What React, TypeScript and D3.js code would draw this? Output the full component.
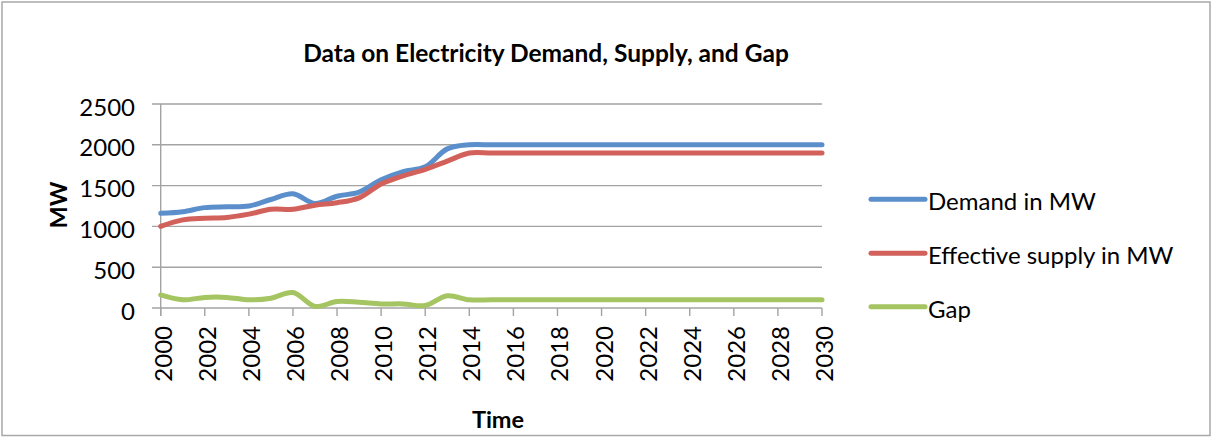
import React from "react";
import * as d3 from "d3";

const years: number[] = [
  2000, 2001, 2002, 2003, 2004, 2005, 2006, 2007, 2008, 2009, 2010,
  2011, 2012, 2013, 2014, 2015, 2016, 2017, 2018, 2019, 2020,
  2021, 2022, 2023, 2024, 2025, 2026, 2027, 2028, 2029, 2030,
];

const demand: number[] = [
  1160, 1180, 1230, 1240, 1250, 1330, 1400, 1280, 1370, 1420, 1570,
  1670, 1730, 1950, 2000, 2000, 2000, 2000, 2000, 2000, 2000,
  2000, 2000, 2000, 2000, 2000, 2000, 2000, 2000, 2000, 2000,
];

const supply: number[] = [
  1000, 1080, 1100, 1110, 1150, 1210, 1210, 1260, 1290, 1350, 1520,
  1620, 1700, 1800, 1900, 1900, 1900, 1900, 1900, 1900, 1900,
  1900, 1900, 1900, 1900, 1900, 1900, 1900, 1900, 1900, 1900,
];

const gap: number[] = [
  160, 100, 130, 130, 100, 120, 190, 20, 80, 70, 50,
  50, 30, 150, 100, 100, 100, 100, 100, 100, 100,
  100, 100, 100, 100, 100, 100, 100, 100, 100, 100,
];

const seriesNames: string[] = ["Demand in MW", "Effective supply in MW", "Gap"];
const seriesColors: string[] = ["#5b8fcc", "#d1615a", "#a5c462"];

const yTicks: number[] = [0, 500, 1000, 1500, 2000, 2500];
const xTicks: number[] = [
  2000, 2002, 2004, 2006, 2008, 2010, 2012, 2014,
  2016, 2018, 2020, 2022, 2024, 2026, 2028, 2030,
];

const W = 1212;
const H = 438;
const FONT = "Lato, 'Open Sans', sans-serif";
const LABEL_SIZE = 24;

export default function App() {
  const x = d3.scaleLinear().domain([2000, 2030]).range([160.7, 822]);
  const y = d3.scaleLinear().domain([0, 2500]).range([308, 104]);

  const line = d3
    .line<[number, number]>()
    .x((d) => x(d[0]))
    .y((d) => y(d[1]))
    .curve(d3.curveCatmullRom.alpha(0.5));

  const all = [demand, supply, gap];
  const grid = "#a3a3a3";

  return (
    <svg
      width={W}
      height={H}
      style={{ position: "absolute", left: 0, top: 0, background: "#fff" }}
    >
      <rect x={2} y={2} width={1208} height={433.5} fill="#fff" stroke="#a8a8a8" strokeWidth={1.5} />

      <text
        x={546}
        y={62}
        textAnchor="middle"
        fontFamily={FONT}
        fontWeight={700}
        fontSize={24.5}
        fill="#000"
      >
        Data on Electricity Demand, Supply, and Gap
      </text>

      {/* horizontal gridlines and y ticks */}
      {yTicks.map((t) => (
        <g key={`y${t}`}>
          <line x1={152} x2={822} y1={y(t)} y2={y(t)} stroke={grid} strokeWidth={1.4} />
          <text
            x={135}
            y={y(t) + 11.5}
            textAnchor="end"
            fontFamily={FONT}
            fontSize={LABEL_SIZE}
            fill="#000"
          >
            {t}
          </text>
        </g>
      ))}

      {/* axes */}
      <line x1={x(2000)} x2={x(2000)} y1={y(2500)} y2={316} stroke={grid} strokeWidth={1.4} />
      {xTicks.map((t) => (
        <g key={`x${t}`}>
          <line x1={x(t)} x2={x(t)} y1={y(0)} y2={316} stroke={grid} strokeWidth={1.4} />
          <text
            transform={`translate(${x(t) + 11},${326}) rotate(-90)`}
            textAnchor="end"
            fontFamily={FONT}
            fontSize={LABEL_SIZE}
            fill="#000"
          >
            {t}
          </text>
        </g>
      ))}

      {/* series lines */}
      {all.map((vals, i) => (
        <path
          key={seriesNames[i]}
          d={line(years.map((yr, j) => [yr, vals[j]] as [number, number])) || ""}
          fill="none"
          stroke={seriesColors[i]}
          strokeWidth={5}
          strokeLinecap="round"
          strokeLinejoin="round"
        />
      ))}

      {/* axis titles */}
      <text
        transform="translate(67,205) rotate(-90)"
        textAnchor="middle"
        fontFamily={FONT}
        fontWeight={700}
        fontSize={23.5}
        fill="#000"
      >
        MW
      </text>
      <text
        x={498}
        y={428}
        textAnchor="middle"
        fontFamily={FONT}
        fontWeight={700}
        fontSize={23.5}
        fill="#000"
      >
        Time
      </text>

      {/* legend */}
      {seriesNames.map((name, i) => {
        const ly = [199.3, 253.3, 306.7][i];
        return (
          <g key={`lg${name}`}>
            <line
              x1={871}
              x2={925}
              y1={ly}
              y2={ly}
              stroke={seriesColors[i]}
              strokeWidth={5}
              strokeLinecap="round"
            />
            <text x={928} y={ly + 10.8} fontFamily={FONT} fontSize={LABEL_SIZE} fill="#000">
              {name}
            </text>
          </g>
        );
      })}
    </svg>
  );
}
